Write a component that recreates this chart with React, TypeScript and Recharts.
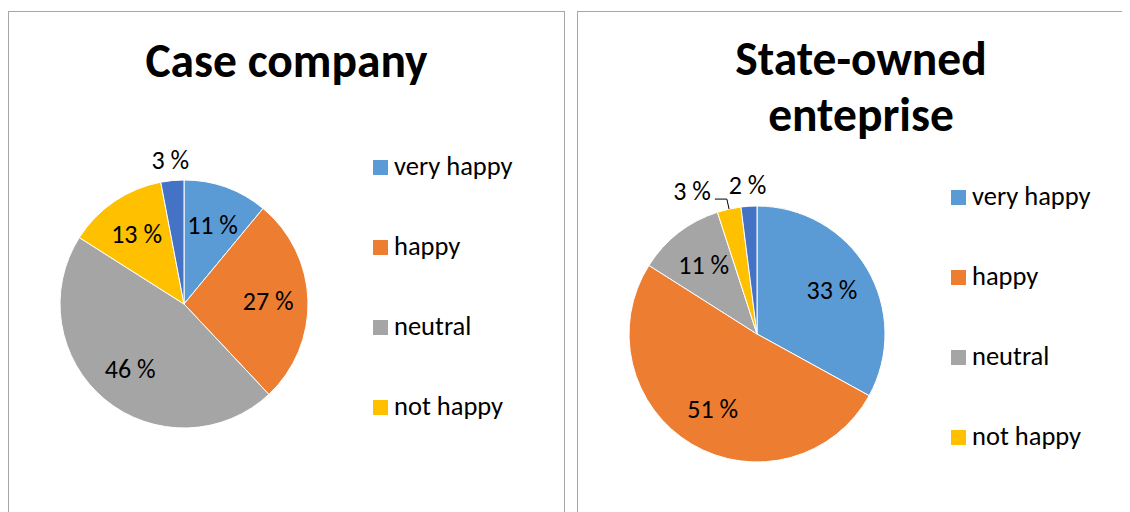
import { PieChart, Pie, Cell, Legend } from "recharts";

const categories = ["very happy", "happy", "neutral", "not happy", "no answer"];
const legendNames = ["very happy", "happy", "neutral", "not happy"];
const caseCompany = [11, 27, 46, 13, 3];
const stateOwned = [33, 51, 11, 3, 2];
const colors = ["#5B9BD5", "#ED7D31", "#A5A5A5", "#FFC000", "#4472C4"];

const FONT = "Carlito, Calibri, Lato, sans-serif";
const RAD = Math.PI / 180;

const toRows = (values: number[]) =>
  categories.map((name, i) => ({ name, value: values[i] }));

function makeLabel(values: number[]) {
  const total = values.reduce((a, b) => a + b, 0);
  const small = (i: number) => values[(i + values.length) % values.length] / total < 0.05;
  return (p: any) => {
    const { cx, cy, midAngle, outerRadius, index, value } = p;
    const cos = Math.cos(-midAngle * RAD);
    const sin = Math.sin(-midAngle * RAD);
    const txt = `${value} %`;
    const common = { fill: "#000", fontSize: 26, fontFamily: FONT };
    if (!small(index)) {
      const r = outerRadius * 0.68;
      return (
        <text x={cx + r * cos} y={cy + r * sin} textAnchor="middle" dominantBaseline="central" {...common}>
          {txt}
        </text>
      );
    }
    if (small(index + 1)) {
      // crowded with the next small slice: push left, draw a leader line
      const x0 = cx + outerRadius * cos;
      const y0 = cy + outerRadius * sin;
      const x1 = cx + outerRadius * 1.08 * cos;
      const y1 = cy + outerRadius * 1.08 * sin;
      const x2 = x1 - 12;
      return (
        <g>
          <polyline points={`${x0},${y0} ${x1},${y1} ${x2},${y1}`} stroke="#000" strokeWidth={1} fill="none" />
          <text x={x2 - 4} y={y1 + 1} textAnchor="end" {...common}>
            {txt}
          </text>
        </g>
      );
    }
    const r = outerRadius * 1.17;
    return (
      <text x={cx + r * cos} y={cy + r * sin} textAnchor="middle" dominantBaseline="central" {...common}>
        {txt}
      </text>
    );
  };
}

const renderLegend = (props: any) => {
  const items = (props.payload || [])
    .filter((e: any) => legendNames.includes(e.value))
    .sort((a: any, b: any) => legendNames.indexOf(a.value) - legendNames.indexOf(b.value));
  return (
    <div style={{ display: "flex", flexDirection: "column" }}>
      {items.map((e: any) => (
        <div key={e.value} style={{ display: "flex", alignItems: "baseline", height: 15, marginBottom: 65 }}>
          <div style={{ width: 15, height: 15, background: e.color }} />
          <span style={{ marginLeft: 6, fontSize: 26.5, fontFamily: FONT, color: "#000", whiteSpace: "nowrap" }}>
            {e.value}
          </span>
        </div>
      ))}
    </div>
  );
};

type PanelProps = {
  left: number;
  width: number;
  values: number[];
  title: string[];
  titleX: number;
  titleY: number;
  cx: number;
  cy: number;
  r: number;
  legendX: number;
  legendY: number;
};

function Panel(p: PanelProps) {
  const h = 520;
  return (
    <div
      style={{
        position: "absolute",
        left: p.left,
        top: 3,
        width: p.width,
        height: h,
        border: "1px solid #A6A6A6",
        background: "#fff",
      }}
    >
      <PieChart width={p.width} height={h} margin={{ top: 0, right: 0, bottom: 0, left: 0 }}>
        <Pie
          data={toRows(p.values)}
          dataKey="value"
          nameKey="name"
          cx={p.cx}
          cy={p.cy}
          outerRadius={p.r}
          startAngle={90}
          endAngle={-270}
          stroke="#fff"
          strokeWidth={1}
          label={makeLabel(p.values)}
          labelLine={false}
          isAnimationActive={false}
        >
          {p.values.map((_, i) => (
            <Cell key={i} fill={colors[i]} />
          ))}
        </Pie>
        <Legend
          layout="vertical"
          align="right"
          verticalAlign="middle"
          content={renderLegend}
          wrapperStyle={{ left: p.legendX, top: p.legendY, right: "auto", width: "auto" }}
        />
      </PieChart>
      <svg
        width={p.width}
        height={h}
        style={{ position: "absolute", left: 0, top: 0, pointerEvents: "none" }}
      >
        {p.title.map((line, i) => (
          <text
            key={line}
            x={p.titleX}
            y={p.titleY + i * 56}
            textAnchor="middle"
            fontFamily={FONT}
            fontWeight="bold"
            fontSize={47.5}
            fill="#000"
          >
            {line}
          </text>
        ))}
      </svg>
    </div>
  );
}

export default function App() {
  return (
    <div style={{ position: "relative", width: 1122, height: 504, overflow: "hidden" }}>
      <Panel
        left={0}
        width={555}
        values={caseCompany}
        title={["Case company"]}
        titleX={277.5}
        titleY={65}
        cx={175}
        cy={292}
        r={124}
        legendX={364}
        legendY={138}
      />
      <Panel
        left={569}
        width={560}
        values={stateOwned}
        title={["State-owned", "enteprise"]}
        titleX={283}
        titleY={62.5}
        cx={179}
        cy={322}
        r={128}
        legendX={373}
        legendY={168}
      />
    </div>
  );
}
